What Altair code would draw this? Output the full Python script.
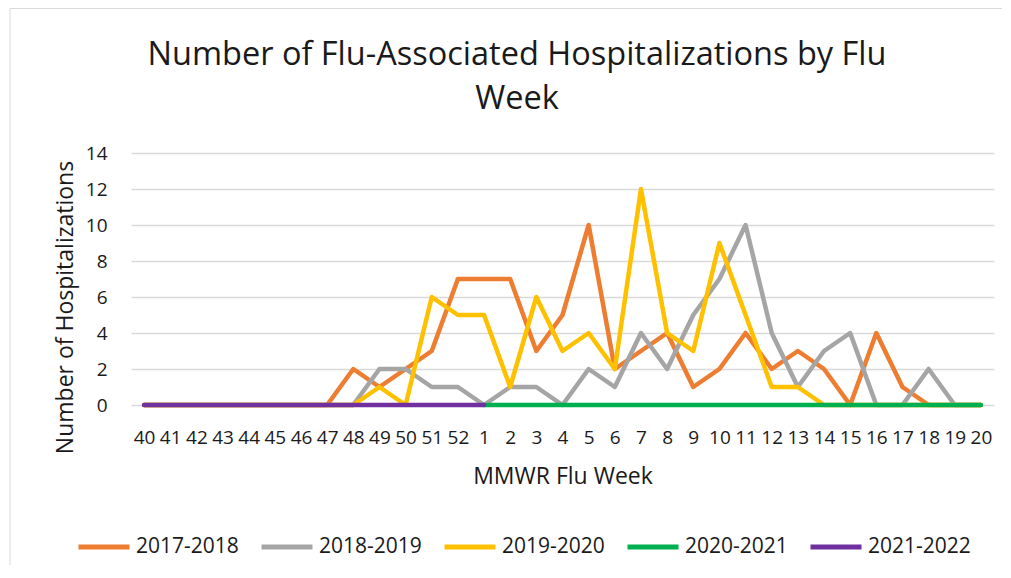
import altair as alt
import pandas as pd

weeks = ["40", "41", "42", "43", "44", "45", "46", "47", "48", "49", "50", "51", "52",
         "1", "2", "3", "4", "5", "6", "7", "8", "9", "10", "11", "12", "13", "14",
         "15", "16", "17", "18", "19", "20"]

seasons = ["2017-2018", "2018-2019", "2019-2020", "2020-2021", "2021-2022"]
colors = ["#ED7D31", "#A5A5A5", "#FFC000", "#00B050", "#7030A0"]

s2017_2018 = [0, 0, 0, 0, 0, 0, 0, 0, 2, 1, 2, 3, 7,
              7, 7, 3, 5, 10, 2, 3, 4, 1, 2, 4, 2, 3, 2, 0, 4, 1, 0, 0, 0]
s2018_2019 = [0, 0, 0, 0, 0, 0, 0, 0, 0, 2, 2, 1, 1,
              0, 1, 1, 0, 2, 1, 4, 2, 5, 7, 10, 4, 1, 3, 4, 0, 0, 2, 0, 0]
s2019_2020 = [0, 0, 0, 0, 0, 0, 0, 0, 0, 1, 0, 6, 5,
              5, 1, 6, 3, 4, 2, 12, 4, 3, 9, 5, 1, 1, 0, 0, 0, 0, 0, 0, 0]
# 2020-2021 reported from week 1 to 20
s2020_2021 = [None] * 13 + [0] * 20
# 2021-2022 reported from week 40 to week 1
s2021_2022 = [0] * 14 + [None] * 19

title_lines = ["Number of Flu-Associated Hospitalizations by Flu", "Week"]

rows = []
for season, vals in zip(seasons, [s2017_2018, s2018_2019, s2019_2020, s2020_2021, s2021_2022]):
    for i, (w, v) in enumerate(zip(weeks, vals)):
        if v is not None:
            rows.append({"Season": season, "Week": w, "Hospitalizations": v, "order": i})
df = pd.DataFrame(rows)

PLOT_W, PLOT_H = 863, 252
FONT = "Open Sans"
TXT = "#1a1a1a"

lines = alt.Chart(df).mark_line(strokeWidth=4.5, strokeCap="round", strokeJoin="round").encode(
    x=alt.X("Week:O", sort=weeks,
            scale=alt.Scale(type="point", padding=0.5),
            axis=alt.Axis(title="MMWR Flu Week", labelAngle=0, ticks=False, tickSize=0,
                          domain=False, grid=False, labelPadding=23, labelFontSize=19,
                          labelOverlap=False, labelFont=FONT, labelColor=TXT,
                          titleFont=FONT, titleFontSize=23, titleFontWeight="normal",
                          titleColor=TXT, titleBaseline="alphabetic", titleY=78)),
    y=alt.Y("Hospitalizations:Q",
            scale=alt.Scale(domain=[0, 14]),
            axis=alt.Axis(title="Number of Hospitalizations", values=[0, 2, 4, 6, 8, 10, 12, 14],
                          ticks=False, tickSize=0, domain=False, grid=True,
                          gridColor="#d9d9d9", gridWidth=1.3, labelPadding=24,
                          labelFontSize=19, labelFont=FONT, labelColor=TXT,
                          titleFont=FONT, titleFontSize=23, titleFontWeight="normal",
                          titleColor=TXT, titleAngle=-90, titleBaseline="alphabetic",
                          titleAlign="center", titleX=-59, titleY=154)),
    color=alt.Color("Season:N", scale=alt.Scale(domain=seasons, range=colors),
                    legend=alt.Legend(title=None, orient="none", direction="horizontal",
                                      columns=5, legendX=-55, legendY=366,
                                      symbolType="stroke", symbolStrokeWidth=5,
                                      symbolSize=2601, labelOffset=4, columnPadding=12,
                                      labelFont=FONT, labelFontSize=21, labelColor=TXT)),
    order="order:Q",
)

one = pd.DataFrame({"k": [0]})

left_border = alt.Chart(one).mark_rule(color="#d9d9d9", strokeWidth=1).encode(
    x=alt.value(-121), y=alt.value(-144.5), y2=alt.value(600)
)
top_border = alt.Chart(one).mark_rule(color="#d9d9d9", strokeWidth=1).encode(
    x=alt.value(-121), x2=alt.value(1200), y=alt.value(-144.5)
)

title = alt.Chart(one).mark_text(font=FONT, fontSize=32.5, lineHeight=44, align="center",
                                 baseline="alphabetic", color=TXT).encode(
    x=alt.value(386), y=alt.value(-88), text=alt.value(title_lines)
)

chart = alt.layer(left_border, top_border, lines, title).properties(
    width=PLOT_W, height=PLOT_H,
    autosize=alt.AutoSizeParams(type="none"),
    padding={"left": 123, "top": 145, "right": 8, "bottom": 160},
).configure_view(stroke=None)

chart.save("out.html", embed_options={"renderer": "svg", "actions": False})
